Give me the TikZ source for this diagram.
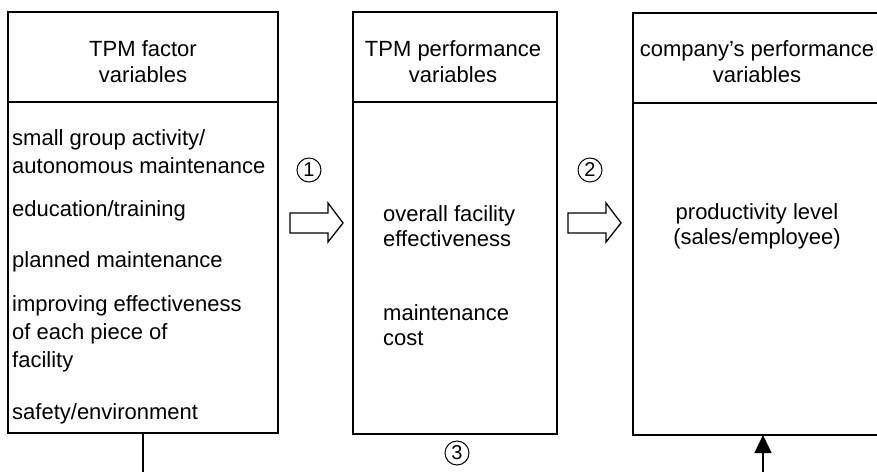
\documentclass[tikz,border=0pt]{standalone}
\usepackage{fontspec}
\setmainfont{Liberation Sans}
\usetikzlibrary{arrows.meta}
\begin{document}
\begin{tikzpicture}[x=1pt,y=-1pt,
  box/.style={draw, line width=1.6pt, inner sep=0pt, outer sep=0pt, anchor=north west},
  divider/.style={line width=1.6pt},
  hdr/.style={align=center, font=\fontsize{22}{26}\selectfont, inner sep=0pt},
  body/.style={align=left, font=\fontsize{22}{28}\selectfont, inner sep=0pt, anchor=west},
  bodyc/.style={align=center, font=\fontsize{22}{25}\selectfont, inner sep=0pt},
  num/.style={circle, draw, line width=1pt, minimum size=24pt, inner sep=0pt, font=\fontsize{20}{20}\selectfont},
  blockarrow/.style={draw, line width=1.3pt, line join=miter},
  conn/.style={line width=1.4pt}]
\useasboundingbox (0,0) rectangle (877,471);
% boxes
\node[box, minimum width=270pt, minimum height=421pt] (b1) at (8,12) {};
\node[box, minimum width=204pt, minimum height=422pt] (b2) at (353,12) {};
\node[box, minimum width=249pt, minimum height=422pt] (b3) at (633,13) {};
% dividers
\coordinate (d1) at (0,102);
\coordinate (d3) at (0,103);
\draw[divider] (b1.west |- d1) -- (b1.east |- d1);
\draw[divider] (b2.west |- d1) -- (b2.east |- d1);
\draw[divider] (b3.west |- d3) -- (b3.east |- d3);
% headers
\node[hdr] (h1) at (143,62) {TPM factor\\variables};
\node[hdr] (h2) at (453,62) {TPM performance\\variables};
\node[hdr] (h3) at (757,62) {company’s performance\\variables};
% box 1 body
\node[body] (t1) at (12,152) {small group activity/\\autonomous maintenance};
\node[body] (t2) at (12,211) {education/training};
\node[body] (t3) at (12,262) {planned maintenance};
\node[body] (t4) at (12,334) {improving effectiveness\\of each piece of\\facility};
\node[body] (t5) at (12,414) {safety/environment};
% box 2 body
\node[body, font=\fontsize{22}{25}\selectfont] (p1) at (383,226) {overall facility\\effectiveness};
\node[body, font=\fontsize{22}{25}\selectfont] (p2) at (383,325) {maintenance\\cost};
% box 3 body
\node[bodyc] (q1) at (757,226) {productivity level\\(sales/employee)};
% numbers
\node[num] (n1) at (309,170) {1};
\node[num] (n2) at (590,170) {2};
\node[num] (n3) at (457,453) {3};
% block arrows
\draw[blockarrow] (290,213) -- (328,213) -- (328,203) -- (343,223) -- (328,242) -- (328,233) -- (290,233) -- cycle;
\draw[blockarrow] (568,213) -- (606,213) -- (606,203) -- (621,223) -- (606,242) -- (606,233) -- (568,233) -- cycle;
% bottom connector
\coordinate (br) at (763,476);
\draw[conn, -{Triangle[length=18pt,width=17pt]}] (b1.south) |- (br) -- (br |- b3.south);
\end{tikzpicture}
\end{document}
